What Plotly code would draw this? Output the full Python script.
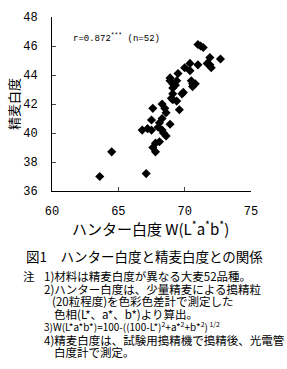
import plotly.graph_objects as go

# Hunter whiteness (x) vs polished-barley whiteness (y), 52 varieties
hunter_w = [63.6, 64.5, 67.1, 66.8, 67.2, 67.5, 67.8, 68.0, 68.3, 68.4,
            68.6, 68.1, 67.8, 67.6, 68.9, 67.5, 68.3, 68.1, 67.6, 68.3,
            68.5, 68.6, 69.6, 69.1, 69.0, 69.1, 69.4, 69.8, 69.9, 69.1,
            68.9, 69.1, 69.4, 70.5, 70.6, 70.8, 70.6, 69.3, 69.5, 70.4,
            70.0, 70.4, 71.0, 71.7, 71.9, 72.0, 71.9, 72.7, 71.0, 71.2,
            71.4, 68.9]
polish_w = [37.0, 38.7, 37.2, 40.2, 40.3, 40.2, 38.7, 40.4, 40.2, 40.0,
            39.8, 39.4, 39.3, 39.0, 40.6, 40.9, 41.0, 40.7, 41.7, 42.0,
            41.7, 41.4, 41.6, 42.7, 42.4, 42.3, 42.2, 42.7, 42.8, 43.1,
            43.6, 43.4, 43.6, 43.6, 43.4, 43.4, 43.2, 43.3, 44.1, 44.3,
            44.5, 44.8, 44.7, 44.8, 44.7, 44.5, 45.2, 45.1, 46.1, 46.0,
            45.9, 43.8]

x_ticks = [60, 65, 70, 75]
y_ticks = [36, 38, 40, 42, 44, 46, 48]

W, H = 287, 369
L, R, T, B = 52, 251, 11, 191  # plot area pixel box

def px(xp):
    return (xp - L) / (R - L)

def py(yp):
    return (B - yp) / (B - T)

JP = "Noto Sans CJK JP"

fig = go.Figure()
fig.add_trace(go.Scatter(
    x=hunter_w, y=polish_w, mode="markers",
    marker=dict(symbol="diamond", size=7, color="black"),
    showlegend=False, hoverinfo="skip"))

fig.update_layout(
    width=W, height=H,
    margin=dict(l=L, r=W - R, t=T, b=H - B),
    paper_bgcolor="white", plot_bgcolor="white",
    font=dict(family=JP, color="black"),
    xaxis=dict(range=[60, 75], tickvals=x_ticks, ticks="inside", ticklen=4,
               showline=True, linecolor="black", linewidth=1, showgrid=False,
               zeroline=False, tickfont=dict(family="Liberation Mono", size=12),
               ticklabelstandoff=9, fixedrange=True),
    yaxis=dict(range=[36, 48], tickvals=y_ticks, ticks="inside", ticklen=4,
               showline=True, linecolor="black", linewidth=1, showgrid=False,
               zeroline=False, tickfont=dict(family="Liberation Mono", size=12),
               ticklabelstandoff=11, fixedrange=True),
)

ann = []
def add(text, xp, yp, size, xanchor="left", family=JP, textangle=0):
    ann.append(dict(text=text, x=px(xp), y=py(yp), xref="paper", yref="paper",
                    xanchor=xanchor, yanchor="middle", showarrow=False,
                    font=dict(family=family, size=size, color="black"),
                    textangle=textangle))

add("r=0.872<sup>***</sup> (n=52)", 71, 33, 9, family="Liberation Mono")
add("精麦白度", 13, 101, 13, xanchor="center", textangle=-90)
add("ハンター白度 W(L<sup>*</sup>a<sup>*</sup>b<sup>*</sup>)", 150, 229, 15, xanchor="center")
add("図1　ハンター白度と精麦白度との関係", 24, 258, 13.5)
add("注", 21, 279, 11.5)
add("1)材料は精麦白度が異なる大麦52品種。", 42, 279, 11.5)
add("2)ハンター白度は、少量精麦による搗精粒", 42, 292, 11.5)
add("(20粒程度)を色彩色差計で測定した", 50, 305, 11.5)
add("色相(L*、a*、b*)より算出。", 52, 318, 11.5)
add("3)W(L*a*b*)=100-((100-L*)<sup>2</sup>+a*<sup>2</sup>+b*<sup>2</sup>)<sup> 1/2</sup>", 42, 331.5, 10)
add("4)精麦白度は、試験用搗精機で搗精後、光電管", 42, 345, 11.5)
add("白度計で測定。", 52, 358, 11.5)

fig.update_layout(annotations=ann)
fig.write_html("out.html")
